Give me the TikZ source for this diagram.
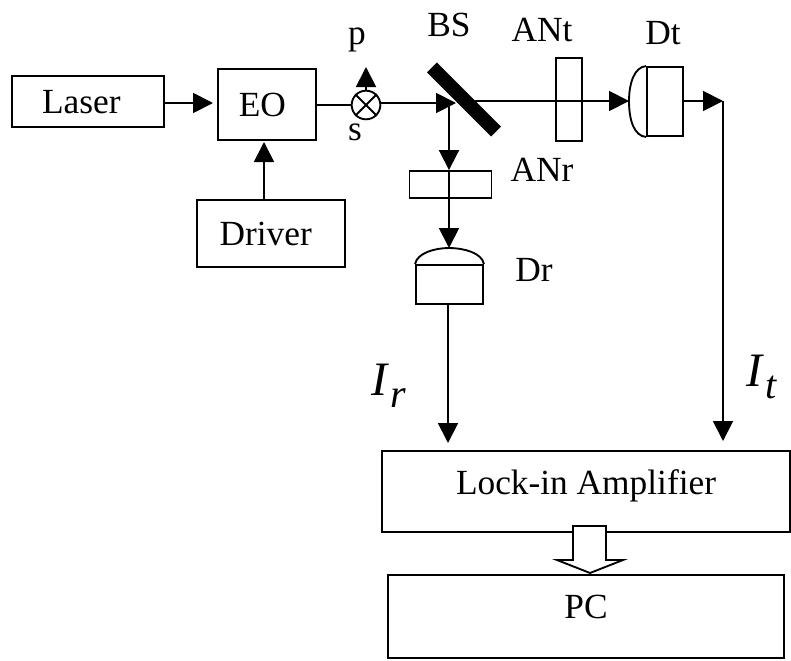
\documentclass[tikz,border=0pt]{standalone}
\usepackage{fontspec}
\setmainfont{Liberation Serif}
\usetikzlibrary{arrows.meta,positioning,calc}
\tikzset{
box/.style={draw,inner sep=0pt,text depth=0pt},
lbl/.style={inner sep=0pt,anchor=base},
sig/.style={font=\fontsize{36}{40}\selectfont\itshape,inner sep=0pt,anchor=base west}
}
\newcommand{\sigsub}[1]{\kern2pt\raisebox{-9pt}{\fontsize{30}{32}\selectfont #1}}
\begin{document}
\begin{tikzpicture}[x=0.75pt,y=-0.75pt,line width=1.4pt,>={Triangle[length=15pt,width=15pt]},
every node/.append style={font=\fontsize{26.5}{30}\selectfont}]
\useasboundingbox (0,0) rectangle (791,660);
% sources
\node[box,minimum width=114pt,minimum height=38.25pt] (laser) at (88,101.5) {Laser\kern10pt};
\node[box,minimum width=73.5pt,minimum height=53.25pt] (eo) at (267,104.5) {EO\kern7pt};
\node[box,minimum width=111pt,minimum height=50.25pt] (driver) at (271,233.5) {Driver\kern8pt};
\coordinate (eoin) at (213,103);
\coordinate (eoup) at (264,142);
\node[circle,draw,inner sep=0pt,minimum size=21.5pt] (pol) at (366,105) {};
\coordinate (ptip) at (366,67);
\node[lbl] (plab) at (357,45) {p};
\node[lbl] (slab) at (355,140) {s};
% beam splitter
\node[fill=black,inner sep=0pt,minimum width=68pt,minimum height=10.5pt,rotate=-45] (bs) at (464,99.5) {};
\node[lbl] (bslab) at (449,37) {BS};
\coordinate (bsin) at (456,103);
\coordinate (bsr) at (449,103);
\coordinate (bst) at (475,101);
% analysers
\node[box,minimum width=19.5pt,minimum height=62.25pt] (ant) at (569,99.5) {};
\node[box,minimum width=61.5pt,minimum height=20.25pt] (anr) at (450.5,184.5) {};
\node[lbl] (antlab) at (542,42) {ANt};
\node[lbl] (anrlab) at (542,181) {ANr};
% detectors
\node[box,minimum width=27pt,minimum height=51.75pt] (dt) at (665,101.5) {};
\coordinate (dttip) at (629,101);
\coordinate (dtr) at (723,101);
\draw (dt.north west) .. controls (634,67) and (629,84) .. (dttip) .. controls (629,120) and (634,136) .. (dt.south west);
\node[box,minimum width=50.25pt,minimum height=29.25pt] (dr) at (449.5,284.5) {};
\coordinate (drtip) at (449,248);
\draw (dr.north west) .. controls (417,253) and (435,248) .. (drtip) .. controls (464,248) and (482,253) .. (dr.north east);
\node[lbl] (dtlab) at (663,45) {Dt};
\node[lbl] (drlab) at (534,281) {Dr};
% readout
\node[box,minimum width=306pt,minimum height=60.75pt,text depth=14pt] (lockin) at (586,491.5) {Lock-in Amplifier};
\node[box,minimum width=297pt,minimum height=62.25pt,text depth=14pt] (pc) at (586,616.5) {PC};
\coordinate (irin) at (448,443);
\coordinate (itin) at (723,441);
\node[sig] (irlab) at (371,395) {I\sigsub{r}};
\node[sig] (itlab) at (746,386) {I\sigsub{t}};
\draw[fill=white,line join=miter] (573,526) -- (573,560) -- (557,560) -- (590,573) -- (623,560) -- (606,560) -- (606,526) -- cycle;
\draw (pol.45) -- (pol.225) (pol.135) -- (pol.315);
\path[->]
(laser.east |- eoin) edge (eoin)
(driver.north -| eoup) edge (eoup)
(pol) edge (ptip)
(pol.east |- bsin) edge (bsin)
(bsr) edge (anr.north -| bsr)
(anr.north -| bsr) edge (drtip)
(bst) edge (dttip)
(dt.east |- dtr) edge (dtr)
(dtr) edge (itin)
(dr.south -| irin) edge (irin)
;
\path[-]
(eo.east |- pol) edge (pol)
;
\end{tikzpicture}
\end{document}
